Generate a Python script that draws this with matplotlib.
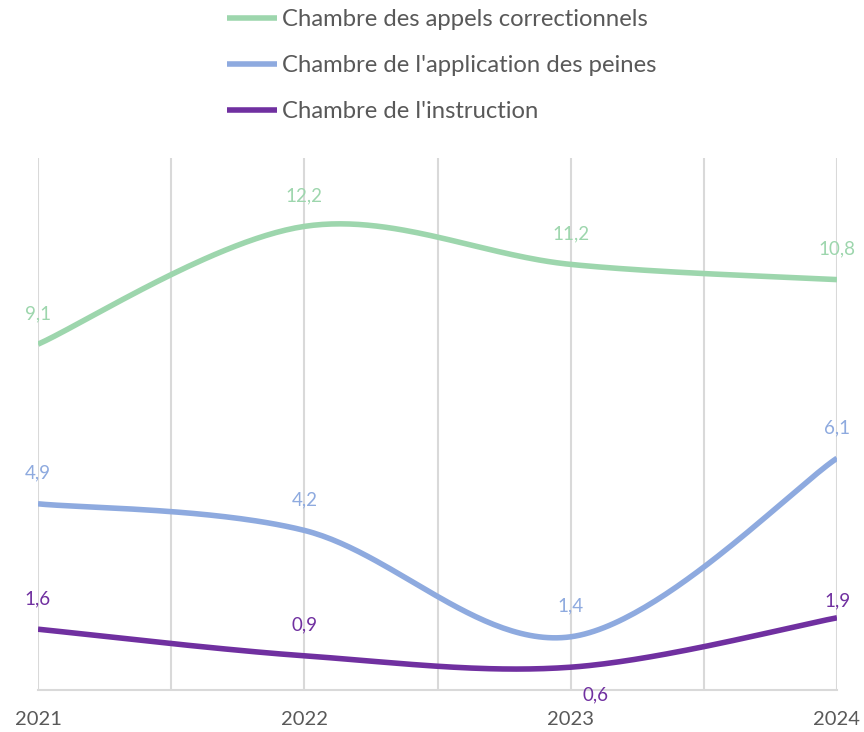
import numpy as np
import matplotlib.pyplot as plt

years = [2021, 2022, 2023, 2024]
appels = [9.1, 12.2, 11.2, 10.8]
peines = [4.9, 4.2, 1.4, 6.1]
instruction = [1.6, 0.9, 0.6, 1.9]

series = [
    ("Chambre des appels correctionnels", appels, "#9dd6ad"),
    ("Chambre de l'application des peines", peines, "#8eaadf"),
    ("Chambre de l'instruction", instruction, "#7030a0"),
]

plt.rcParams['font.family'] = ['Lato', 'DejaVu Sans']


def smooth(xs, ys, n=60):
    # bezier through points, control points like excel's smoothed lines
    p = np.column_stack([xs, ys]).astype(float)
    ext = np.vstack([p[0], p, p[-1]])
    out = []
    for i in range(len(p) - 1):
        p0, p3 = p[i], p[i + 1]
        c1 = p0 + (ext[i + 2] - ext[i]) / 6
        c2 = p3 - (ext[i + 3] - ext[i + 1]) / 6
        t = np.linspace(0, 1, n)[:, None]
        seg = ((1 - t) ** 3) * p0 + 3 * ((1 - t) ** 2) * t * c1 + 3 * (1 - t) * t ** 2 * c2 + t ** 3 * p3
        out.append(seg)
    pts = np.vstack(out)
    return pts[:, 0], pts[:, 1]


fig = plt.figure(figsize=(8.64, 7.32), dpi=100)
ax = fig.add_axes([38 / 864, 42 / 732, 799 / 864, 532 / 732])

for x in np.arange(2021, 2024.01, 0.5):
    ax.axvline(x, color="#d9d9d9", lw=1.5, zorder=0)

# label offsets in points, a few are moved like in the source
offsets = {(2, 2023): (18, -20), (2, 2024): (0, 12)}

for k, (name, vals, col) in enumerate(series):
    sx, sy = smooth(years, vals)
    ax.plot(sx, sy, color=col, lw=4, solid_capstyle="butt", label=name)
    for yr, v in zip(years, vals):
        dx, dy = offsets.get((k, yr), (0, 22))
        ax.annotate(f"{v}".replace(".", ","), (yr, v), xytext=(dx, dy),
                    textcoords="offset points", ha="center", va="center",
                    color=col, fontsize=13.5, annotation_clip=False)

ax.set_xlim(2021, 2024)
ax.set_ylim(0, 14)
ax.set_xticks(years)
ax.set_xticklabels([str(y) for y in years], fontsize=14.5, color="#595959")
ax.set_yticks([])
ax.tick_params(axis="x", length=0, pad=15)
for s in ["top", "right", "left"]:
    ax.spines[s].set_visible(False)
ax.spines["bottom"].set_color("#d9d9d9")
ax.spines["bottom"].set_linewidth(1.5)

leg = fig.legend(loc="upper left", bbox_to_anchor=(227 / 864, 1 - 9 / 732),
                 frameon=False, fontsize=17.2, handlelength=2.1,
                 handletextpad=0.2, labelspacing=1.05, borderpad=0,
                 borderaxespad=0)
for t in leg.get_texts():
    t.set_color("#595959")
for h in leg.legend_handles:
    h.set_linewidth(4)

fig.savefig("out.png", dpi=100)
